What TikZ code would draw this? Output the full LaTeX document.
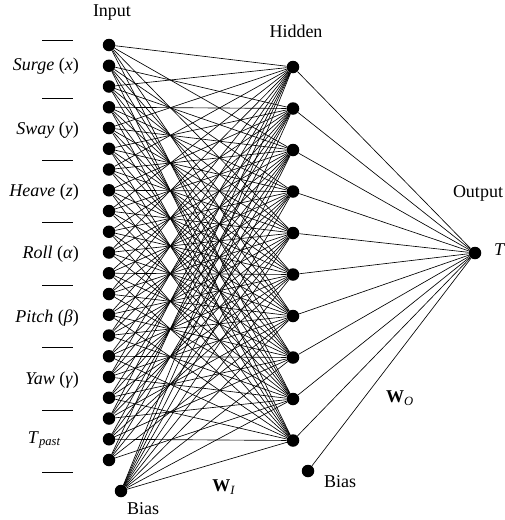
\documentclass[tikz,border=0pt]{standalone}
\usepackage{fontspec}
\setmainfont{Liberation Serif}
\begin{document}
\begin{tikzpicture}[x=1pt,y=-1pt,
  neuron/.style={circle,fill=black,inner sep=0pt,minimum size=12.5pt},
  link/.style={line width=0.65pt,black},
  sep/.style={line width=0.75pt},
  lbl/.style={font=\fontsize{18}{21}\selectfont,inner sep=0pt},
  inlbl/.style={lbl,anchor=mid east}]
\useasboundingbox (0,0) rectangle (504,520);

% input layer: 21 neurons plus bias
\foreach \i in {0,...,20}
  \node[neuron] (in\i) at (109,{45+\i*20.75}) {};
\node[neuron] (inb) at (121,491) {};

% hidden layer: 10 neurons plus bias
\foreach \j in {0,...,9}
  \node[neuron] (h\j) at (293,{67+\j*41.5}) {};
\node[neuron] (hb) at (308,471) {};

% output neuron
\node[neuron] (out) at (475,253) {};

% weights W_I
\foreach \j in {0,...,9}{
  \foreach \i in {0,...,20}{
    \pgfmathtruncatemacro{\k}{mod(\i+\j,2)}
    \ifnum\k=0 \draw[link] (in\i) -- (h\j);\fi
  }
  \draw[link] (inb) -- (h\j);
}
% weights W_O
\foreach \j in {0,...,9}
  \draw[link] (h\j) -- (out);
\draw[link] (hb) -- (out);

% group separators
\foreach \y in {40,98,160,222,285,347,410,472}
  \draw[sep] (42,\y) -- (73,\y);

% input labels
\node[inlbl] (lsurge) at (79,68) {\textit{Surge} (\textit{x})};
\node[inlbl] (lsway)  at (79,132) {\textit{Sway} (\textit{y})};
\node[inlbl] (lheave) at (79,194) {\textit{Heave} (\textit{z})};
\node[inlbl] (lroll)  at (79,256) {\textit{Roll} (\textit{α})};
\node[inlbl] (lpitch) at (79,320) {\textit{Pitch} (\textit{β})};
\node[inlbl] (lyaw)   at (79,382) {\textit{Yaw} (\textit{γ})};
\node[inlbl] (ltpast) at (61,441) {\textit{T}\textsubscript{\textit{past}}};

% layer titles
\node[lbl] (tin)  at (112,13) {Input};
\node[lbl] (thid) at (296,31) {Hidden};
\node[lbl] (tout) at (478,193) {Output};
\node[lbl,anchor=mid west] (tt) at (494,253) {\textit{T}};

% bias and weight labels
\node[lbl] (binl) at (143,509) {Bias};
\node[lbl] (bhl)  at (340,482) {Bias};
\node[lbl] (wi)   at (224,487) {\textbf{W}\textsubscript{\textit{I}}};
\node[lbl] (wo)   at (400,398) {\textbf{W}\textsubscript{\textit{O}}};
\end{tikzpicture}
\end{document}
